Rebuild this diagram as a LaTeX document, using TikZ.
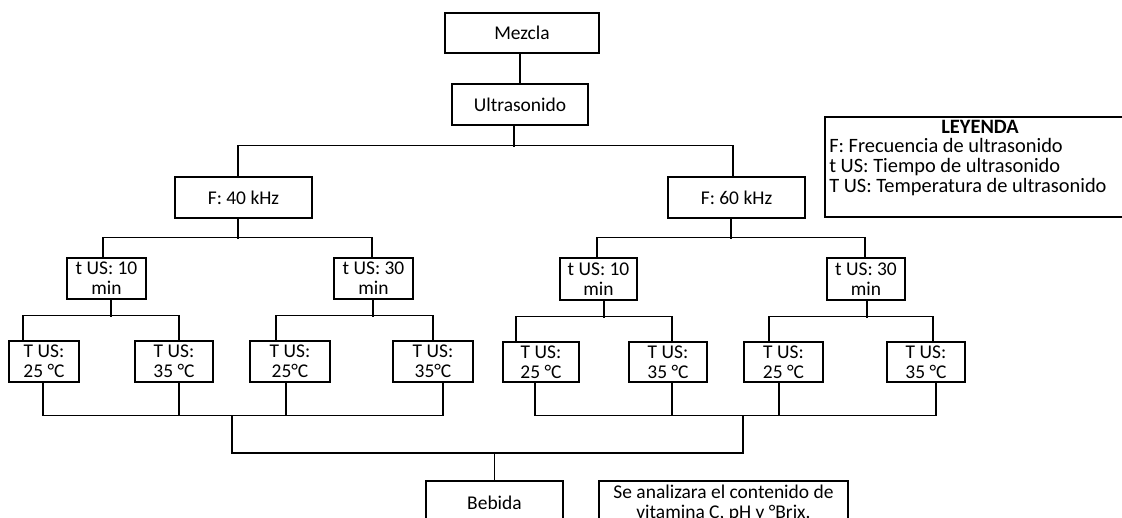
\documentclass[tikz,border=0pt]{standalone}
\usepackage{fontspec}
\setmainfont{Carlito}
\usetikzlibrary{calc}
\newcommand\mkbox[6]{\node[box, minimum width={(#4-#2)*0.75pt}, minimum height={(#5-#3)*0.75pt}] (#1) at ({(#2+#4)/2},{(#3+#5)/2}) {#6};}
\begin{document}
\begin{tikzpicture}[x=0.75pt,y=-0.75pt,
  box/.style={draw, line width=0.8pt, inner sep=0pt, align=center, font=\fontsize{14.6}{15}\selectfont},
  conn/.style={line width=0.8pt},
  legbox/.style={draw, line width=2pt, inner sep=0pt},
  legtxt/.style={inner sep=0pt, font=\fontsize{15.3}{15}\selectfont}]
\useasboundingbox (0,0) rectangle (1122,518);
\clip (0,0) rectangle (1122,518);

\mkbox{mez}{445}{13}{599}{53}{Mezcla}
\mkbox{ult}{452}{84}{588}{125}{Ultrasonido}
\mkbox{f40}{175}{177}{312}{218}{F: 40 kHz}
\mkbox{f60}{668}{177}{805}{218}{F: 60 kHz}
\mkbox{ta10}{67}{258}{146}{299}{t US: 10\\min}
\mkbox{ta30}{334}{258}{413}{299}{t US: 30\\min}
\mkbox{tb10}{560}{258}{637}{300}{t US: 10\\min}
\mkbox{tb30}{827}{258}{905}{300}{t US: 30\\min}
\mkbox{Ta1}{9}{341}{79}{382}{T US:\\25 °C}
\mkbox{Ta2}{135}{341}{213}{382}{T US:\\35 °C}
\mkbox{Ta3}{250}{341}{330}{382}{T US:\\25°C}
\mkbox{Ta4}{393}{341}{473}{382}{T US:\\35°C}
\mkbox{Tb1}{503}{342}{579}{382}{T US:\\25 °C}
\mkbox{Tb2}{629}{342}{707}{382}{T US:\\35 °C}
\mkbox{Tb3}{744}{342}{823}{382}{T US:\\25 °C}
\mkbox{Tb4}{887}{342}{965}{382}{T US:\\35 °C}
\mkbox{beb}{426}{481}{563}{525}{Bebida}
\mkbox{ana}{599}{481}{848}{525}{Se analizara el contenido de\\vitamina C, pH y °Brix.}

% legend
\node[legbox, minimum width={310*0.75pt}, minimum height={100*0.75pt}] (leg) at (980,167) {};
\node[legtxt, font=\fontsize{15.3}{15}\selectfont\bfseries] (legt) at (980,127) {LEYENDA};
\node[legtxt, anchor=west, align=left] (legl) at (829,167) {F: Frecuencia de ultrasonido\\t US: Tiempo de ultrasonido\\T US: Temperatura de ultrasonido};

% connectors
\draw[conn] (ult.north) -- (ult.north |- mez.south);
\draw[conn] ($(ult.south)+(-6,0)$) -- ++(0,21);
\draw[conn] ($(f40.north)+(-5.5,0)$) |- ($(f60.north)+(-3.5,-31)$) -- ($(f60.north)+(-3.5,0)$);

\draw[conn] ($(f40.south)+(-5.5,0)$) -- ++(0,20);
\draw[conn] ($(ta10.north)+(-3.5,0)$) |- ($(ta30.north)+(-1.5,-20)$) -- ($(ta30.north)+(-1.5,0)$);
\draw[conn] ($(f60.south)+(-5.5,0)$) -- ++(0,20);
\draw[conn] ($(tb10.north)+(-1.5,0)$) |- ($(tb30.north)+(-1,-20)$) -- ($(tb30.north)+(-1,0)$);

\draw[conn] ($(ta10.south)+(4.5,0)$) -- ++(0,17);
\draw[conn] ($(Ta1.north)+(-21,0)$) |- ($(Ta2.north)+(5,-25)$) -- ($(Ta2.north)+(5,0)$);
\draw[conn] ($(ta30.south)+(-0.5,0)$) -- ++(0,17);
\draw[conn] ($(Ta3.north)+(-14,0)$) |- ($(Ta4.north)+(0,-25)$) -- (Ta4.north);
\draw[conn] ($(tb10.south)+(5.5,0)$) -- ++(0,17);
\draw[conn] ($(Tb1.north)+(-25,0)$) |- ($(Tb2.north)+(4,-25)$) -- ($(Tb2.north)+(4,0)$);
\draw[conn] ($(tb30.south)+(1,0)$) -- ++(0,17);
\draw[conn] ($(Tb3.north)+(-14.5,0)$) |- ($(Tb4.north)+(7,-25)$) -- ($(Tb4.north)+(7,0)$);

\draw[conn] ($(Ta1.south)+(-1,0)$) |- ($(Ta4.south)+(10,33)$) -- ($(Ta4.south)+(10,0)$);
\draw[conn] ($(Ta2.south)+(5,0)$) -- ++(0,33);
\draw[conn] ($(Ta3.south)+(-4,0)$) -- ++(0,33);
\draw[conn] ($(Tb1.south)+(-6,0)$) |- ($(Tb4.south)+(10,33)$) -- ($(Tb4.south)+(10,0)$);
\draw[conn] ($(Tb2.south)+(4,0)$) -- ++(0,33);
\draw[conn] ($(Tb3.south)+(-4.5,0)$) -- ++(0,33);

\coordinate (jl) at (232,415);
\coordinate (jr) at (743,415);
\draw[conn] (jl) -- ++(0,38) -| (jr);
\draw[conn] (beb.north) -- ++(0,-28);
\end{tikzpicture}
\end{document}
